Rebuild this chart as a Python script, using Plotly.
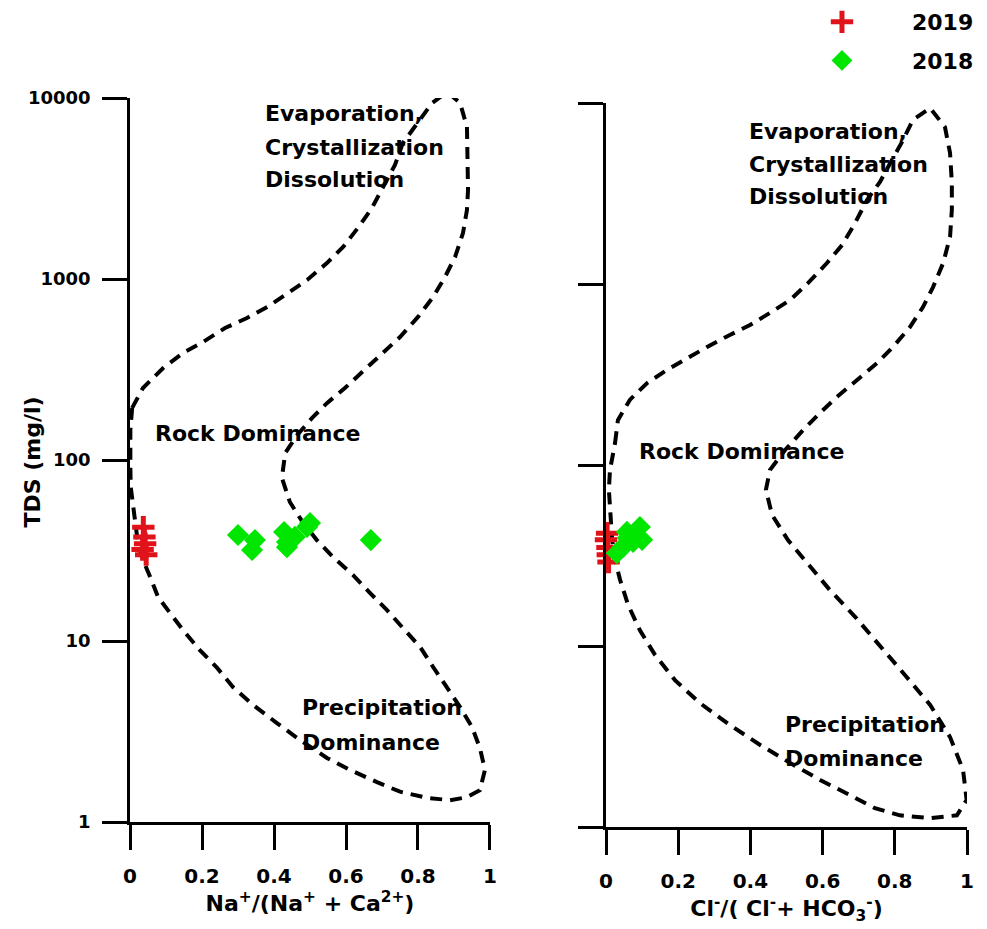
import plotly.graph_objects as go

# ---------------- data ----------------
x_ticks = [0, 0.2, 0.4, 0.6, 0.8, 1]
x_tick_text = ["0", "0.2", "0.4", "0.6", "0.8", "1"]
y_ticks = [1, 10, 100, 1000, 10000]
y_tick_text = ["1", "10", "100", "1000", "10000"]

# Gibbs boundary, Na+/(Na+ + Ca2+) panel
na_curve_x = [0.006, 0.036, 0.092, 0.147, 0.203, 0.264, 0.325, 0.381, 0.439, 0.492,
              0.547, 0.592, 0.633, 0.672, 0.703, 0.736, 0.758, 0.797, 0.839, 0.881,
              0.917, 0.936, 0.939, 0.939, 0.936, 0.925, 0.903, 0.875, 0.842, 0.800,
              0.750, 0.703, 0.647, 0.597, 0.547, 0.506, 0.464, 0.431, 0.422, 0.444,
              0.481, 0.519, 0.564, 0.619, 0.667, 0.714, 0.758, 0.806, 0.842, 0.881,
              0.917, 0.950, 0.972, 0.986, 0.972, 0.936, 0.889, 0.825, 0.750, 0.686,
              0.611, 0.547, 0.472, 0.408, 0.342, 0.286, 0.242, 0.194, 0.147, 0.111,
              0.078, 0.056, 0.036, 0.022, 0.014, 0.006, 0.002, 0.001, 0.001, 0.001, 0.006]
na_curve_tds = [194, 250, 322, 390, 449, 536, 609, 700, 837, 987,
                1225, 1503, 1914, 2467, 3222, 4266, 5641, 7277, 9376, 10800,
                9376, 6918, 4540, 3104, 2405, 1795, 1324, 1026, 796, 617,
                478, 390, 306, 250, 206, 171, 137, 109, 79.6, 58.6,
                44.9, 36.1, 29.1, 23.2, 18.4, 14.8, 11.8, 9.27, 7.18, 5.57,
                4.32, 3.35, 2.56, 1.94, 1.50, 1.37, 1.32, 1.36, 1.47, 1.66,
                1.94, 2.26, 2.84, 3.52, 4.43, 5.57, 7.10, 8.91, 11.5, 14.3,
                17.5, 22.6, 28.1, 34.8, 44.9, 57.8, 71, 91.5, 118, 147, 194]

# Gibbs boundary, Cl-/(Cl- + HCO3-) panel
cl_curve_x = [0.025, 0.033, 0.066, 0.114, 0.169, 0.224, 0.280, 0.343, 0.399, 0.454,
              0.510, 0.560, 0.612, 0.654, 0.690, 0.723, 0.759, 0.789, 0.820, 0.850,
              0.898, 0.939, 0.953, 0.958, 0.958, 0.953, 0.934, 0.906, 0.878, 0.842,
              0.795, 0.751, 0.695, 0.640, 0.593, 0.546, 0.496, 0.454, 0.443, 0.460,
              0.504, 0.560, 0.620, 0.690, 0.759, 0.828, 0.898, 0.953, 0.989, 0.999,
              0.972, 0.898, 0.814, 0.745, 0.676, 0.593, 0.510, 0.427, 0.343, 0.260,
              0.191, 0.136, 0.094, 0.061, 0.039, 0.025, 0.017, 0.011, 0.008, 0.011, 0.025]
cl_curve_tds = [132, 177, 229, 284, 335, 390, 449, 523, 593, 692,
                816, 1014, 1306, 1641, 2173, 2911, 3664, 4721, 6095, 8054,
                9376, 7362, 5297, 3614, 2564, 1818, 1306, 962, 746, 578,
                449, 366, 295, 238, 194, 156, 121, 93.8, 72.8, 53,
                38.5, 28.1, 20.4, 14.5, 10.1, 6.92, 4.72, 3.14, 2.07, 1.41,
                1.16, 1.12, 1.16, 1.27, 1.50, 1.82, 2.26, 2.84, 3.66, 4.84,
                6.48, 8.91, 12.2, 16.9, 23.2, 29.9, 38.5, 56.4, 72.8, 93.8, 132]

# samples
na_2019_x = [0.037, 0.040, 0.035, 0.045, 0.042]
na_2019_tds = [42.5, 37.5, 32.0, 30.0, 34.5]
na_2018_x = [0.300, 0.347, 0.339, 0.428, 0.436, 0.436, 0.458, 0.492, 0.500, 0.669]
na_2018_tds = [38.5, 36.1, 31.8, 40.0, 35.2, 33.0, 37.6, 42.7, 44.9, 36.1]

cl_2019_x = [0.003, 0.000, 0.005, 0.007, 0.004]
cl_2019_tds = [42.0, 38.6, 31.9, 29.1, 35.0]
cl_2018_x = [0.030, 0.047, 0.058, 0.075, 0.094, 0.100, 0.060]
cl_2018_tds = [32.6, 35.2, 42.7, 37.6, 45.4, 38.6, 39.5]

RED = "#e0131b"
GREEN = "#00e600"
FONT = "DejaVu Sans"

fig = go.Figure()

dash_line = dict(color="black", width=4, dash="12px,8px")
fig.add_trace(go.Scatter(x=na_curve_x, y=na_curve_tds, mode="lines", line=dash_line,
                         showlegend=False, hoverinfo="skip", xaxis="x", yaxis="y"))
fig.add_trace(go.Scatter(x=cl_curve_x, y=cl_curve_tds, mode="lines", line=dash_line,
                         showlegend=False, hoverinfo="skip", xaxis="x2", yaxis="y2"))

cross = dict(symbol="cross-thin", size=16, color=RED, line=dict(color=RED, width=5))
diamond = dict(symbol="diamond", size=17, color=GREEN, line=dict(width=0))

fig.add_trace(go.Scatter(x=na_2019_x, y=na_2019_tds, mode="markers", marker=cross,
                         name="2019", legendgroup="2019", xaxis="x", yaxis="y"))
fig.add_trace(go.Scatter(x=na_2018_x, y=na_2018_tds, mode="markers", marker=diamond,
                         name="2018", legendgroup="2018", xaxis="x", yaxis="y"))
fig.add_trace(go.Scatter(x=cl_2019_x, y=cl_2019_tds, mode="markers", marker=cross,
                         name="2019", legendgroup="2019", showlegend=False,
                         xaxis="x2", yaxis="y2", cliponaxis=False))
fig.add_trace(go.Scatter(x=cl_2018_x, y=cl_2018_tds, mode="markers", marker=diamond,
                         name="2018", legendgroup="2018", showlegend=False,
                         xaxis="x2", yaxis="y2"))

xtickfont = dict(family=FONT, size=20, color="black", weight="bold")
ytickfont = dict(family=FONT, size=18, color="black", weight="bold")
titlefont = dict(family=FONT, size=22, color="black", weight="bold")

common_x = dict(range=[0, 1], tickvals=x_ticks, ticktext=x_tick_text, showgrid=False,
                zeroline=False, showline=True, linecolor="black", linewidth=2.5,
                ticks="outside", ticklen=25, tickwidth=2.5, tickcolor="black",
                tickfont=xtickfont, ticklabelstandoff=9, automargin=False)
common_y = dict(type="log", range=[0, 4], tickvals=y_ticks, showgrid=False,
                zeroline=False, showline=True, linecolor="black", linewidth=2.5,
                ticks="outside", ticklen=25, tickwidth=2.5, tickcolor="black",
                tickfont=ytickfont, automargin=False)

fig.update_layout(
    width=987, height=929,
    margin=dict(l=130, r=20, t=98, b=102, autoexpand=False),
    paper_bgcolor="white", plot_bgcolor="white",
    font=dict(family=FONT, color="black"),
    xaxis=dict(domain=[0, 0.4301], anchor="y",
               title=dict(text="Na<sup>+</sup>/(Na<sup>+</sup> + Ca<sup>2+</sup>)",
                          font=titlefont, standoff=7), **common_x),
    xaxis2=dict(domain=[0.5687, 1], anchor="y2",
                title=dict(text="Cl<sup>-</sup>/( Cl<sup>-</sup>+ HCO<sub>3</sub><sup>-</sup>)",
                           font=titlefont, standoff=7), **common_x),
    yaxis=dict(domain=[0.00686, 1], anchor="x", ticktext=y_tick_text,
               ticklabelstandoff=8, **common_y),
    yaxis2=dict(domain=[0, 0.99314], anchor="x2", showticklabels=False, **common_y),
    legend=dict(x=0.767, y=1.133, xanchor="left", yanchor="top",
                font=dict(family=FONT, size=22, color="black", weight="bold"),
                itemwidth=130, traceorder="grouped", tracegroupgap=7,
                bgcolor="rgba(0,0,0,0)"),
)

ann_font = dict(family=FONT, size=22, color="black", weight="bold")
labels = [
    ("x", "y", 0.369, 3.912, "Evaporation,"),
    ("x", "y", 0.369, 3.729, "Crystallization"),
    ("x", "y", 0.369, 3.547, "Dissolution"),
    ("x", "y", 0.064, 2.144, "Rock Dominance"),
    ("x", "y", 0.472, 0.630, "Precipitation"),
    ("x", "y", 0.472, 0.442, "Dominance"),
    ("x2", "y2", 0.390, 3.845, "Evaporation,"),
    ("x2", "y2", 0.390, 3.663, "Crystallization"),
    ("x2", "y2", 0.390, 3.481, "Dissolution"),
    ("x2", "y2", 0.086, 2.077, "Rock Dominance"),
    ("x2", "y2", 0.490, 0.564, "Precipitation"),
    ("x2", "y2", 0.490, 0.381, "Dominance"),
]
for xr, yr, xv, yv, txt in labels:
    fig.add_annotation(xref=xr, yref=yr, x=xv, y=yv, text=txt, showarrow=False,
                       xanchor="left", yanchor="middle", font=ann_font)

fig.add_annotation(xref="paper", yref="paper", x=0, y=0.5, xshift=-98,
                   text="TDS (mg/l)", textangle=-90, showarrow=False,
                   xanchor="center", yanchor="middle", font=titlefont)

fig.write_html("out.html")
